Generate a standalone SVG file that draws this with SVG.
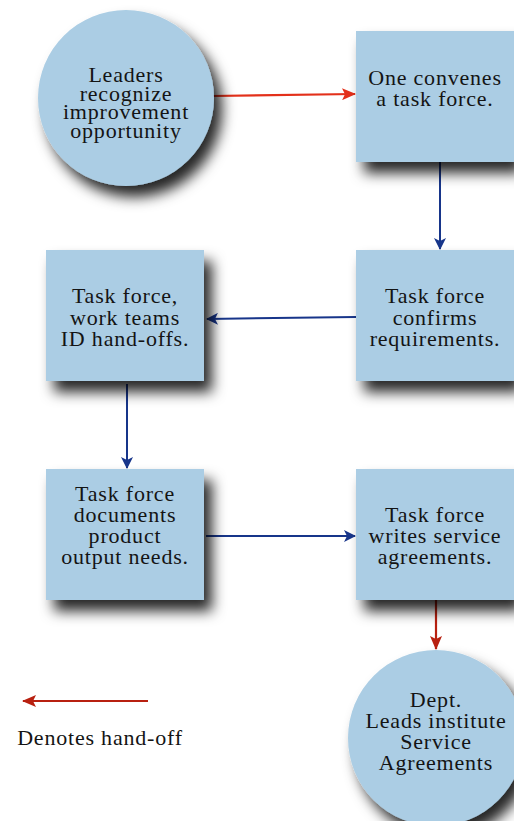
<svg xmlns="http://www.w3.org/2000/svg" width="514" height="821" viewBox="0 0 514 821">
<style>
.node{fill:#abcde4;filter:url(#sh)}
.blue{stroke:#17358a;stroke-width:2;fill:none}
.red{stroke:#e3301a;stroke-width:2.2;fill:none}
.dred{stroke:#b82010;stroke-width:2.2;fill:none}
</style>
<defs>
<filter id="sh" x="-25%" y="-25%" width="160%" height="170%">
<feDropShadow dx="8" dy="11" stdDeviation="7" flood-color="#000" flood-opacity="0.85"/>
</filter>
<marker id="ab" viewBox="0 0 12 12" refX="11" refY="6" markerWidth="12" markerHeight="12" markerUnits="userSpaceOnUse" orient="auto"><path d="M0,0 L12,6 L0,12 L3,6 Z" fill="#17358a"/></marker>
<marker id="ar" viewBox="0 0 14 12" refX="13" refY="6" markerWidth="14" markerHeight="12" markerUnits="userSpaceOnUse" orient="auto"><path d="M0,0 L14,6 L0,12 L3,6 Z" fill="#e3301a"/></marker>
<marker id="ad" viewBox="0 0 14 12" refX="13" refY="6" markerWidth="14" markerHeight="12" markerUnits="userSpaceOnUse" orient="auto"><path d="M0,0 L14,6 L0,12 L3,6 Z" fill="#b82010"/></marker>
</defs>
<rect width="514" height="821" fill="#fff"/>
<g id="connectors">
<path class="red" d="M212,96 L355,94" marker-end="url(#ar)"/>
<path class="blue" d="M440,162 L440,249" marker-end="url(#ab)"/>
<path class="blue" d="M356,317 L207,319" marker-end="url(#ab)"/>
<path class="blue" d="M127,384 L127,468" marker-end="url(#ab)"/>
<path class="blue" d="M206,536 L355,536" marker-end="url(#ab)"/>
<path class="dred" d="M436,600 L436,649" marker-end="url(#ad)"/>
</g>
<g font-family="'Liberation Serif', serif" font-size="22" letter-spacing="0.8" fill="#141414" text-anchor="middle">
<g id="n1"><circle class="node" cx="126" cy="98" r="88"/>
<text x="126" y="82">Leaders</text><text x="126" y="100.5">recognize</text><text x="126" y="119">improvement</text><text x="126" y="137.5">opportunity</text></g>
<g id="n2"><rect class="node" x="356" y="31" width="158" height="131"/>
<text x="435" y="85">One convenes</text><text x="435" y="106">a task force.</text></g>
<g id="n3"><rect class="node" x="356" y="250" width="158" height="131"/>
<text x="435" y="303">Task force</text><text x="435" y="324.5">confirms</text><text x="435" y="346">requirements.</text></g>
<g id="n4"><rect class="node" x="46" y="250" width="158" height="131"/>
<text x="125" y="303">Task force,</text><text x="125" y="324.5">work teams</text><text x="125" y="346">ID hand-offs.</text></g>
<g id="n5"><rect class="node" x="46" y="469" width="158" height="131"/>
<text x="125" y="501">Task force</text><text x="125" y="522">documents</text><text x="125" y="543">product</text><text x="125" y="564">output needs.</text></g>
<g id="n6"><rect class="node" x="356" y="469" width="158" height="131"/>
<text x="435" y="522">Task force</text><text x="435" y="543">writes service</text><text x="435" y="564">agreements.</text></g>
<g id="n7"><circle class="node" cx="436" cy="738" r="88"/>
<text x="436" y="707">Dept.</text><text x="436" y="728">Leads institute</text><text x="436" y="749">Service</text><text x="436" y="770">Agreements</text></g>
<g id="legend">
<path class="dred" d="M148,701 L23,701" marker-end="url(#ad)"/>
<text x="100" y="745">Denotes hand-off</text>
</g>
</g>
</svg>
